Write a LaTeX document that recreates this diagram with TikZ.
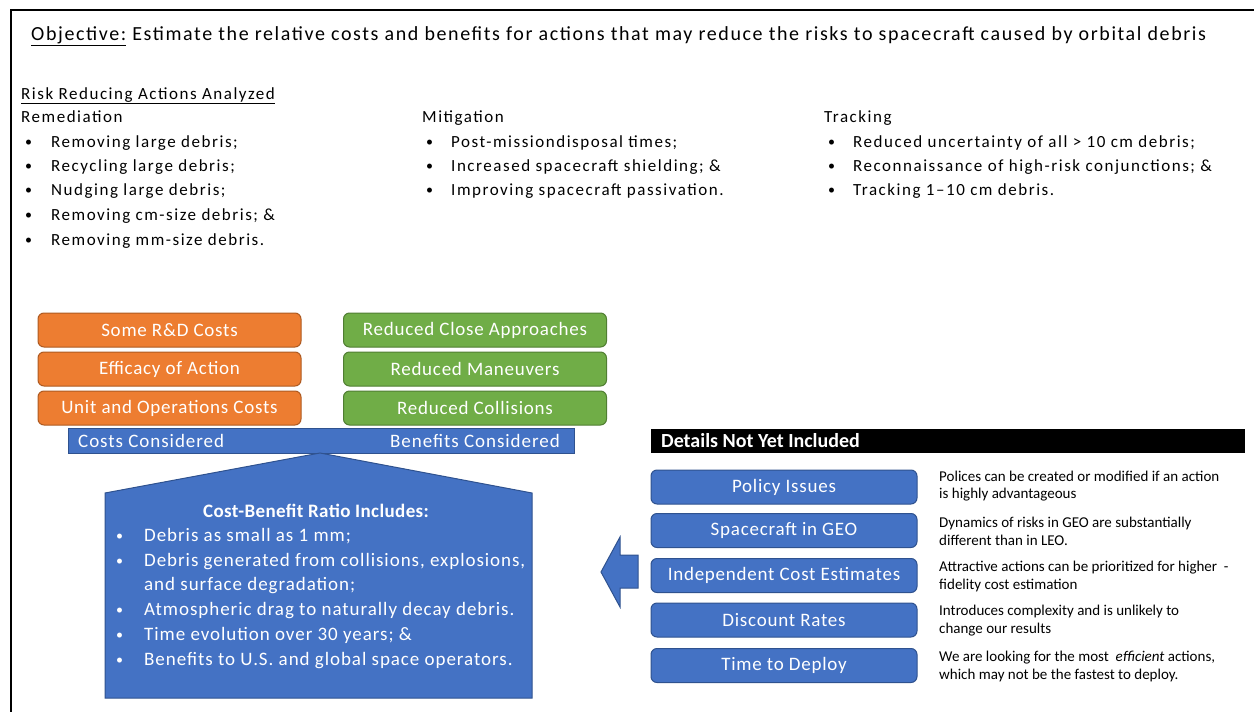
\documentclass[tikz,border=0pt]{standalone}
\usepackage{fontspec}
\setmainfont{Carlito}
\definecolor{orfill}{HTML}{ED7D31}
\definecolor{orline}{HTML}{AE5A21}
\definecolor{grfill}{HTML}{70AD47}
\definecolor{grline}{HTML}{507E32}
\definecolor{blfill}{HTML}{4472C4}
\definecolor{blline}{HTML}{2F528F}
\newcommand{\bodyfont}{\fontsize{17}{20}\selectfont\addfontfeature{LetterSpace=9}}
\newcommand{\boxfont}{\fontsize{19}{22}\selectfont\addfontfeature{LetterSpace=4}}
\newcommand{\pentfont}{\fontsize{19}{22}\selectfont\addfontfeature{LetterSpace=5}}
\newcommand{\bul}{\fontsize{14}{16}\selectfont\textbullet}
\begin{document}
\begin{tikzpicture}[x=1pt,y=-1pt,
  txt/.style={anchor=base west, inner sep=0pt, font=\bodyfont},
  wtxt/.style={anchor=base west, inner sep=0pt, text=white, font=\pentfont},
  stxt/.style={anchor=base west, inner sep=0pt, font=\fontsize{15}{17}\selectfont},
  obox/.style={draw=orline, fill=orfill, line width=1pt, rounded corners=6pt, minimum width=263pt, minimum height=34pt, text=white, font=\boxfont, inner sep=0pt},
  gbox/.style={obox, draw=grline, fill=grfill},
  bbox/.style={obox, draw=blline, fill=blfill, minimum width=266pt},
  bshape/.style={draw=blline, fill=blfill, line width=1pt}]
\useasboundingbox (0,0) rectangle (1254,712);
% frame
\draw[line width=2pt] (11,712) -- (11,10) -- (1254,10);
% title
\node[anchor=base west, inner sep=0pt, font=\fontsize{20}{24}\selectfont\addfontfeature{LetterSpace=8}] (title) at (31,40) {\underline{Objective:} Estimate the relative costs and benefits for actions that may reduce the risks to spacecraft caused by orbital debris};
\node[txt] (risk) at (21,99) {\underline{Risk Reducing Actions Analyzed}};
% remediation
\node[txt] (rem) at (21,122) {Remediation};
\node[txt] (r1b) at (25,146) {\bul}; \node[txt] (r1) at (51,147) {Removing large debris;};
\node[txt] (r2b) at (25,170) {\bul}; \node[txt] (r2) at (51,171) {Recycling large debris;};
\node[txt] (r3b) at (25,194) {\bul}; \node[txt] (r3) at (51,195) {Nudging large debris;};
\node[txt] (r4b) at (25,219) {\bul}; \node[txt] (r4) at (51,220) {Removing cm-size debris; \&};
\node[txt] (r5b) at (25,244) {\bul}; \node[txt] (r5) at (51,245) {Removing mm-size debris.};
% mitigation
\node[txt] (mit) at (422,122) {Mitigation};
\node[txt] (m1b) at (426,146) {\bul}; \node[txt] (m1) at (451,147) {Post-missiondisposal times;};
\node[txt] (m2b) at (426,170) {\bul}; \node[txt] (m2) at (451,171) {Increased spacecraft shielding; \&};
\node[txt] (m3b) at (426,194) {\bul}; \node[txt] (m3) at (451,195) {Improving spacecraft passivation.};
% tracking
\node[txt] (trk) at (824,122) {Tracking};
\node[txt] (t1b) at (828,146) {\bul}; \node[txt] (t1) at (853,147) {Reduced uncertainty of all > 10 cm debris;};
\node[txt] (t2b) at (828,170) {\bul}; \node[txt] (t2) at (853,171) {Reconnaissance of high-risk conjunctions; \&};
\node[txt] (t3b) at (828,194) {\bul}; \node[txt] (t3) at (853,195) {Tracking 1–10 cm debris.};
% cost boxes
\node[obox] (c1) at (169.5,330) {Some R\&D Costs};
\node[obox] (c2) at (169.5,369) {Efficacy of Action};
\node[obox] (c3) at (169.5,408) {Unit and Operations Costs};
% benefit boxes
\node[gbox] (b1) at (475,330) {Reduced Close Approaches};
\node[gbox] (b2) at (475,369) {Reduced Maneuvers};
\node[gbox] (b3) at (475,408) {Reduced Collisions};
% balance bar
\node[bshape, minimum width=506pt, minimum height=25pt, inner sep=0pt] (bar) at (321,440.5) {};
\node[wtxt, anchor=west] (costs) at (78,440.5) {Costs Considered};
\node[wtxt, anchor=east] (bens) at (560,440.5) {Benefits Considered};
% pentagon
\draw[bshape] (320,453) -- (532,493) -- (532,698) -- (105,698) -- (105,493) -- cycle;
\node[wtxt, anchor=base, font=\fontsize{19}{22}\selectfont\bfseries\addfontfeature{LetterSpace=2}] (cbh) at (316,517) {Cost-Benefit Ratio Includes:};
\node[wtxt] (p1b) at (116,540) {\bul}; \node[wtxt] (p1) at (144,541) {Debris as small as 1 mm;};
\node[wtxt] (p2b) at (116,565) {\bul}; \node[wtxt] (p2) at (144,566) {Debris generated from collisions, explosions,};
\node[wtxt] (p2c) at (144,590) {and surface degradation;};
\node[wtxt] (p3b) at (116,614) {\bul}; \node[wtxt] (p3) at (144,615) {Atmospheric drag to naturally decay debris.};
\node[wtxt] (p4b) at (116,639) {\bul}; \node[wtxt] (p4) at (144,640) {Time evolution over 30 years; \&};
\node[wtxt] (p5b) at (116,664) {\bul}; \node[wtxt] (p5) at (144,665) {Benefits to U.S. and global space operators.};
% arrow
\draw[bshape] (601,572) -- (620,537) -- (620,555) -- (638,555) -- (638,588) -- (620,588) -- (620,607) -- cycle;
% details
\node[fill=black, minimum width=594pt, minimum height=24pt, inner sep=0pt] (dbar) at (948,441) {};
\node[anchor=west, inner sep=0pt, text=white, font=\fontsize{20}{22}\selectfont\bfseries] (dtitle) at (661,441) {Details Not Yet Included};
\node[bbox] (d1) at (784,487) {Policy Issues};
\node[bbox] (d2) at (784,530.5) {Spacecraft in GEO};
\node[bbox] (d3) at (784,575.5) {Independent Cost Estimates};
\node[bbox] (d4) at (784,620) {Discount Rates};
\node[bbox] (d5) at (784,665.5) {Time to Deploy};
\node[stxt] (e1a) at (939,481) {Polices can be created or modified if an action};
\node[stxt] (e1b) at (939,498) {is highly advantageous};
\node[stxt] (e2a) at (939,527) {Dynamics of risks in GEO are substantially};
\node[stxt] (e2b) at (939,545) {different than in LEO.};
\node[stxt] (e3a) at (939,571) {Attractive actions can be prioritized for higher \ -};
\node[stxt] (e3b) at (939,589) {fidelity cost estimation};
\node[stxt] (e4a) at (939,615) {Introduces complexity and is unlikely to};
\node[stxt] (e4b) at (939,633) {change our results};
\node[stxt] (e5a) at (939,661) {We are looking for the most \ \emph{efficient} actions,};
\node[stxt] (e5b) at (939,679) {which may not be the fastest to deploy.};
\end{tikzpicture}
\end{document}
